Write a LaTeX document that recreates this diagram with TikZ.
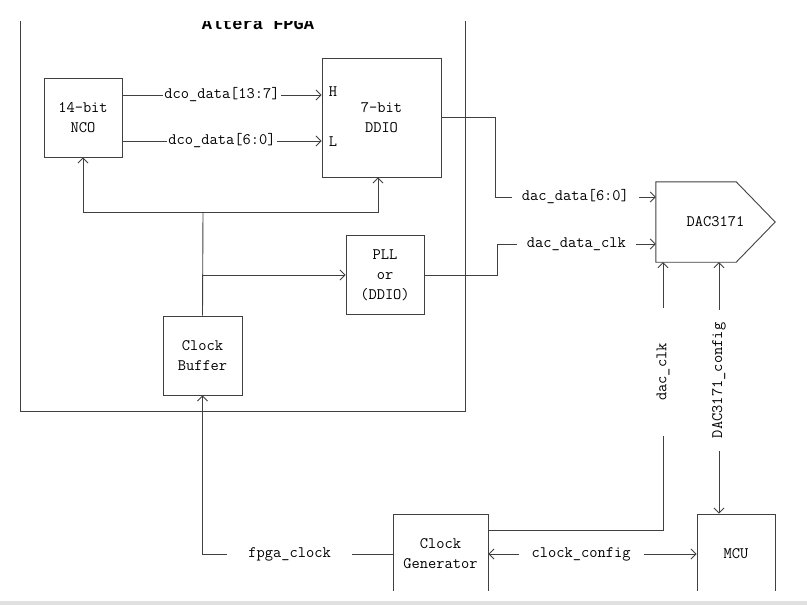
\documentclass[tikz,border=0pt]{standalone}
\usepackage{fontspec}
\setmonofont{Latin Modern Mono}
\newfontfamily\titlefont{Liberation Mono}
\usetikzlibrary{arrows.meta}

\begin{document}
\begin{tikzpicture}[x=1pt, y=-1pt, >={Straight Barb[length=5pt,width=10pt]},
    every node/.style={font=\fontsize{16}{20}\selectfont\ttfamily, text=black},
    blk/.style={draw=black!75, line width=0.9pt, align=center, inner sep=0pt},
    wire/.style={draw=black!75, line width=0.9pt},
    lbl/.style={fill=white, inner ysep=2pt, inner xsep=#1},
    lbl/.default=1pt]
    \useasboundingbox (0,0) rectangle (807,605);
    % dai xam o day anh
    \fill[black!12] (0,601) rectangle (807,605);

    \begin{scope}
    \clip (0,21) rectangle (807,590);

    % Khung FPGA
    \draw[wire] (20,0) -- (20,411) -- (465,411) -- (465,0);
    \node[font=\fontsize{17}{20}\selectfont\titlefont\bfseries, anchor=base] (fpga) at (258,30) {Altera FPGA};

    % Cac khoi
    \node[blk, minimum width=78pt, minimum height=79pt] (nco) at (83,117.5) {14-bit\\NCO};
    \node[blk, minimum width=119pt, minimum height=119pt] (ddio) at (381.5,117.5) {7-bit\\DDIO};
    \node (hin) at (333,92) {H};
    \node (lin) at (333,142) {L};
    \node[blk, minimum width=78pt, minimum height=79pt] (pll) at (385,275) {PLL\\or\\(DDIO)};
    \node[blk, minimum width=79pt, minimum height=79pt] (cbuf) at (202.5,355.5) {Clock\\Buffer};
    \node[blk, minimum width=95pt, minimum height=80pt] (cgen) at (440.5,554) {Clock\\Generator};
    \node[blk, minimum width=78pt, minimum height=80pt] (mcu) at (736,554) {MCU};

    % DAC (hinh mui ten)
    \node[minimum width=119pt, minimum height=80pt] (dac) at (715.5,222) {DAC3171};
    \draw[wire] (dac.north west) -- ([xshift=-39pt]dac.north east) -- (dac.east)
        -- ([xshift=-39pt]dac.south east) -- (dac.south west) -- cycle;

    % NCO -> DDIO
    \coordinate (hi) at (300,95);
    \coordinate (lo) at (300,141);
    \draw[wire,->] (nco.east |- hi) -- (ddio.west |- hi) node[midway, lbl] {dco\_data[13:7]};
    \draw[wire,->] (nco.east |- lo) -- (ddio.west |- lo) node[midway, lbl] {dco\_data[6:0]};

    % Cay xung nhip trong FPGA
    \coordinate (fb) at (203,212);
    \draw[wire] (cbuf.north) -- (fb);
    \draw[wire,->] (fb) -| (nco.south);
    \draw[wire,->] (fb) -| ([xshift=-3.5pt]ddio.south);
    \draw[wire,->] (cbuf.north |- pll.west) -- (pll.west);

    % Ra DAC
    \coordinate (dd) at (495,197);
    \coordinate (dc) at (497,244);
    \draw[wire,->] (ddio.east) -| (dd) -- (dac.west |- dd) node[midway, lbl=10pt] {dac\_data[6:0]};
    \draw[wire,->] (pll.east) -| (dc) -- (dac.west |- dc) node[midway, lbl=10pt] {dac\_data\_clk};

    % Clock Generator va MCU
    \coordinate (dk) at (663,530);
    \draw[wire,->] (cgen.east |- dk) -- (dk) -- (dk |- dac.south)
        node[pos=0.59, lbl=35pt, rotate=90] {dac\_clk};
    \coordinate (cf) at (719,400);
    \draw[wire,<->] (cf |- mcu.north) -- (cf |- dac.south)
        node[pos=0.53, lbl=13pt, rotate=90] {DAC3171\_config};
    \draw[wire,<->] (cgen.east) -- (mcu.west) node[pos=0.445, lbl=13pt] {clock\_config};
    \draw[wire,->] (cgen.west) -| (cbuf.south) node[pos=0.271, lbl=21pt] {fpga\_clock};
    \end{scope}
\end{tikzpicture}
\end{document}
